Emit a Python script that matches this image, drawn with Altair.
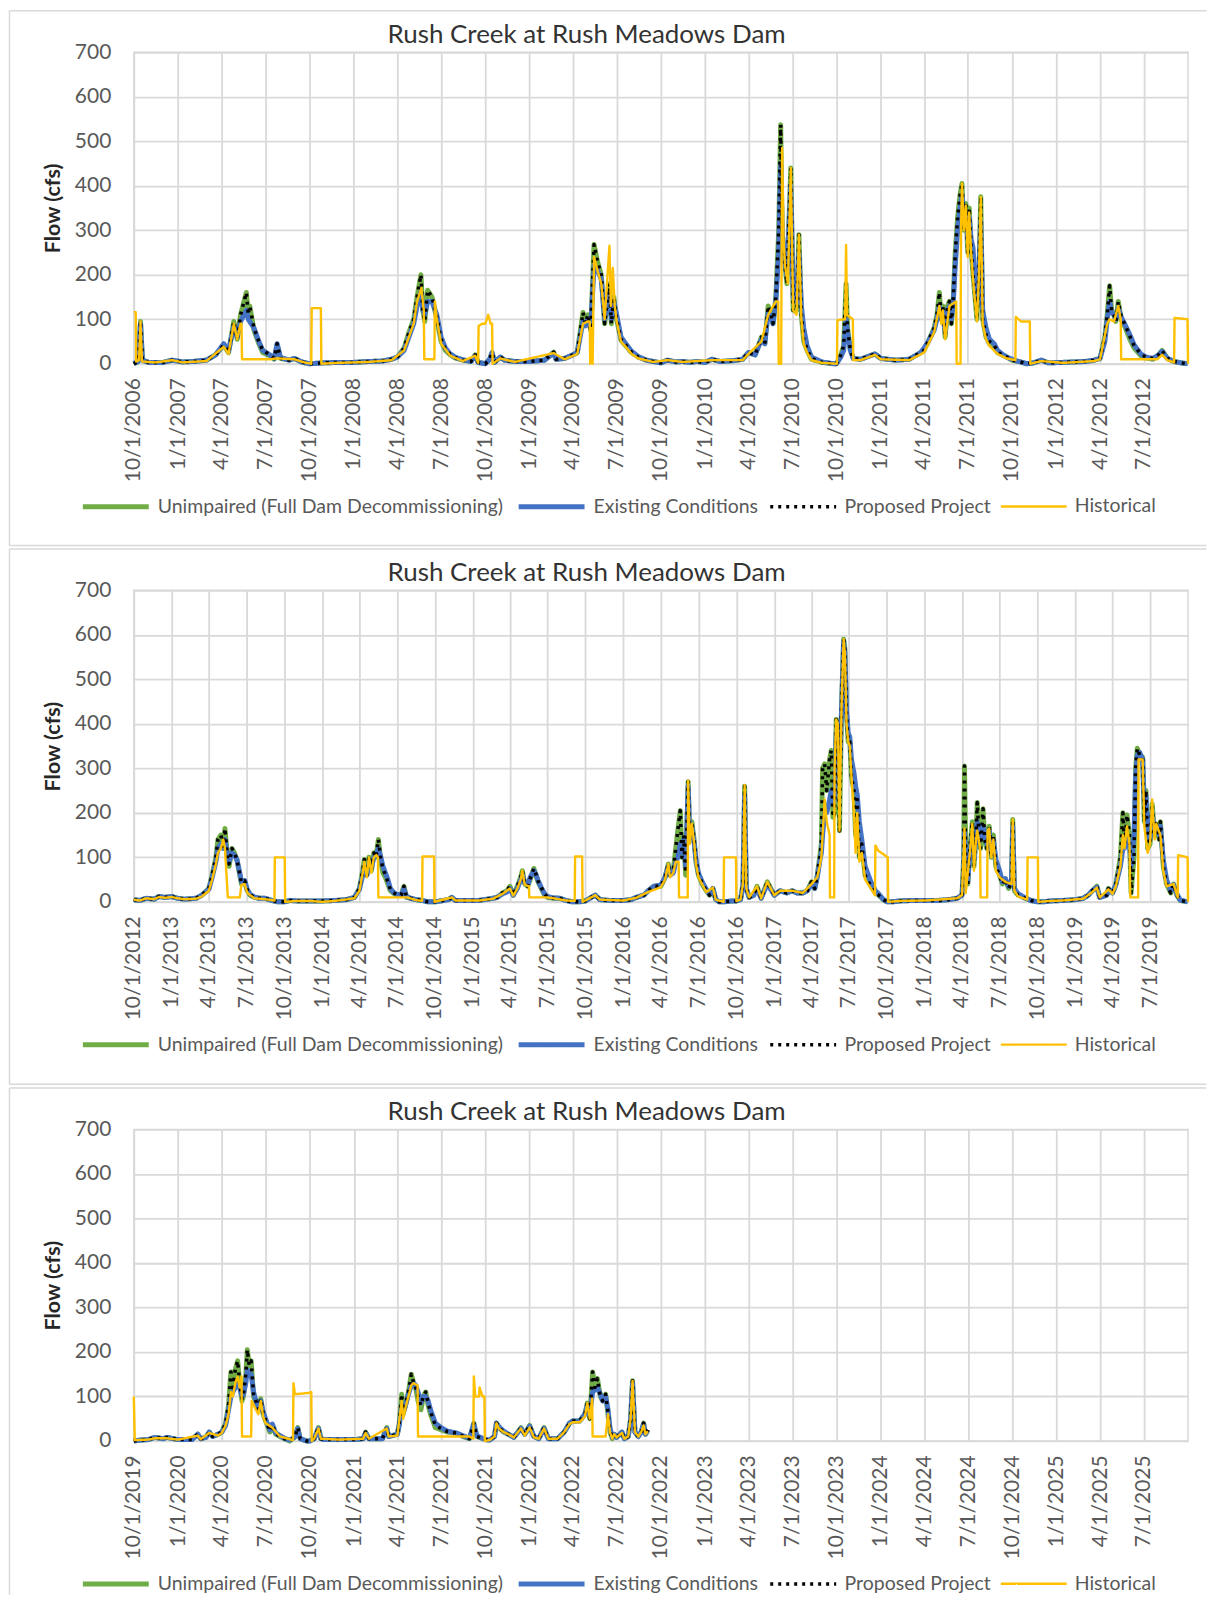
import altair as alt
import pandas as pd

TITLE = "Rush Creek at Rush Meadows Dam"
SERIES = ["Unimpaired (Full Dam Decommissioning)", "Existing Conditions", "Proposed Project", "Historical"]
COLORS = ["#70AD47", "#4472C4", "#000000", "#FFC000"]
DASHES = [[1, 0], [1, 0], [3, 5], [1, 0]]
WIDTHS = [5, 5, 3.5, 2.4]
Y_TICKS = [0, 100, 200, 300, 400, 500, 600, 700]

# ---------------- Panel 1 : WY2007 - WY2012 ----------------
P1_DATES = [
    "2006-10-01", "2006-10-10", "2006-10-15", "2006-10-19", "2006-11-01", "2006-12-01", "2006-12-20", "2007-01-10", "2007-02-01", "2007-03-01", "2007-03-20", "2007-04-06", "2007-04-16", "2007-04-27", "2007-05-04", "2007-05-11", "2007-05-23", "2007-05-27", "2007-05-30", "2007-06-08", "2007-06-18", "2007-06-26", "2007-07-11", "2007-07-20", "2007-07-26", "2007-08-02", "2007-08-20", "2007-08-31", "2007-09-15",
    "2007-10-01", "2007-11-01", "2007-12-01", "2008-01-01", "2008-02-01", "2008-03-01", "2008-03-20", "2008-04-01", "2008-04-15", "2008-04-25", "2008-05-05", "2008-05-12", "2008-05-20", "2008-05-24", "2008-05-28", "2008-06-03", "2008-06-12", "2008-06-22", "2008-07-01", "2008-07-10", "2008-07-20", "2008-08-01", "2008-08-15", "2008-09-01", "2008-09-10", "2008-09-16",
    "2008-10-01", "2008-10-10", "2008-10-15", "2008-10-20", "2008-11-01", "2008-11-10", "2008-12-01", "2009-01-01", "2009-02-01", "2009-02-20", "2009-02-25", "2009-03-15", "2009-04-01", "2009-04-10", "2009-04-22", "2009-04-27", "2009-05-02", "2009-05-08", "2009-05-15", "2009-05-22", "2009-05-30", "2009-06-06", "2009-06-16", "2009-06-20", "2009-06-25", "2009-07-01", "2009-07-10", "2009-07-20", "2009-08-01", "2009-08-15", "2009-09-01", "2009-09-15",
    "2009-10-01", "2009-10-15", "2009-11-01", "2009-11-15", "2009-12-01", "2009-12-15", "2010-01-01", "2010-01-15", "2010-02-01", "2010-03-01", "2010-03-20", "2010-04-01", "2010-04-15", "2010-04-28", "2010-05-05", "2010-05-12", "2010-05-18", "2010-05-22", "2010-05-28", "2010-06-03", "2010-06-07", "2010-06-10", "2010-06-14", "2010-06-20", "2010-06-28", "2010-07-03", "2010-07-10", "2010-07-15", "2010-07-20", "2010-07-25", "2010-08-01", "2010-08-10", "2010-09-01", "2010-09-25",
    "2010-10-01", "2010-10-10", "2010-10-16", "2010-10-21", "2010-10-24", "2010-10-30", "2010-11-05", "2010-11-20", "2010-12-20", "2011-01-01", "2011-02-01", "2011-03-01", "2011-03-25", "2011-04-01", "2011-04-10", "2011-04-22", "2011-04-28", "2011-05-03", "2011-05-07", "2011-05-10", "2011-05-15", "2011-05-20", "2011-05-24", "2011-05-28", "2011-06-01", "2011-06-05", "2011-06-10", "2011-06-15", "2011-06-19", "2011-06-23", "2011-06-27", "2011-07-01", "2011-07-04", "2011-07-08", "2011-07-12", "2011-07-16", "2011-07-20", "2011-07-24", "2011-07-28", "2011-08-01", "2011-08-08", "2011-08-15", "2011-08-25", "2011-09-01", "2011-09-10", "2011-09-20",
    "2011-10-01", "2011-10-15", "2011-11-01", "2011-11-15", "2011-12-01", "2011-12-15", "2012-01-15", "2012-03-01", "2012-03-20", "2012-04-01", "2012-04-11", "2012-04-16", "2012-04-21", "2012-04-25", "2012-04-30", "2012-05-04", "2012-05-09", "2012-05-15", "2012-05-22", "2012-06-02", "2012-06-11", "2012-06-25", "2012-07-05", "2012-07-20", "2012-08-01", "2012-08-08", "2012-08-19", "2012-09-02", "2012-09-16", "2012-09-30",
]
P1_UNIMPAIRED = [
    0, 5, 95, 8, 3, 3, 8, 4, 5, 8, 20, 42, 25, 95, 55, 110, 160, 110, 130, 75, 45, 25, 18, 10, 42, 12, 8, 12, 4,
    0, 2, 3, 3, 5, 6, 10, 15, 35, 70, 100, 150, 200, 120, 95, 165, 150, 100, 50, 30, 20, 12, 8, 5, 20, 3,
    0, 10, 25, 3, 15, 8, 5, 5, 8, 26, 10, 12, 20, 25, 115, 90, 110, 75, 268, 230, 200, 90, 180, 90, 150, 100, 53, 40, 25, 15, 8, 5,
    2, 8, 4, 5, 3, 5, 3, 10, 5, 7, 10, 25, 20, 60, 45, 130, 110, 90, 150, 300, 537, 300, 240, 180, 440, 120, 120, 290, 110, 50, 30, 10, 3, 0,
    0, 20, 40, 180, 80, 30, 12, 10, 22, 12, 8, 10, 25, 30, 50, 80, 110, 160, 100, 130, 60, 130, 140, 90, 150, 250, 330, 380, 405, 300, 360, 250, 350, 260, 200, 150, 100, 200, 375, 100, 60, 45, 40, 25, 20, 15,
    8, 5, 0, 2, 8, 2, 3, 5, 8, 12, 60, 110, 175, 120, 110, 95, 140, 100, 85, 55, 35, 18, 13, 10, 20, 30, 12, 5, 2, 0,
]
P1_EXISTING = [
    0, 5, 90, 8, 3, 3, 8, 4, 5, 8, 20, 45, 28, 85, 60, 95, 120, 100, 95, 80, 50, 30, 20, 12, 45, 14, 8, 12, 4,
    0, 2, 3, 3, 5, 6, 10, 15, 30, 60, 90, 130, 160, 120, 110, 140, 140, 110, 60, 35, 22, 14, 9, 5, 18, 3,
    0, 10, 25, 3, 15, 8, 5, 5, 8, 24, 10, 12, 20, 25, 95, 85, 100, 80, 220, 210, 190, 100, 160, 100, 140, 110, 60, 45, 28, 16, 8, 5,
    2, 8, 4, 5, 3, 5, 3, 10, 5, 7, 10, 25, 20, 55, 45, 115, 105, 90, 140, 250, 450, 300, 240, 200, 400, 150, 140, 250, 130, 80, 40, 15, 4, 0,
    0, 15, 30, 100, 70, 30, 12, 10, 22, 12, 8, 10, 25, 35, 50, 75, 100, 130, 100, 120, 70, 120, 130, 100, 140, 220, 300, 350, 380, 320, 340, 280, 330, 280, 260, 180, 130, 200, 320, 120, 80, 55, 45, 30, 22, 15,
    10, 5, 0, 2, 8, 2, 3, 5, 8, 12, 50, 100, 140, 115, 110, 100, 125, 105, 90, 65, 42, 22, 15, 12, 20, 28, 12, 5, 2, 0,
]
P1_PROPOSED = [
    0, 5, 95, 8, 3, 3, 8, 4, 5, 8, 20, 42, 25, 95, 55, 110, 160, 110, 130, 80, 50, 30, 20, 12, 45, 12, 8, 12, 4,
    0, 2, 3, 3, 5, 6, 10, 15, 35, 70, 100, 150, 200, 120, 95, 165, 150, 105, 55, 32, 21, 13, 8, 5, 20, 3,
    0, 10, 25, 3, 15, 8, 5, 5, 8, 26, 10, 12, 20, 25, 115, 90, 110, 75, 268, 230, 200, 90, 180, 90, 150, 100, 55, 42, 26, 15, 8, 5,
    2, 8, 4, 5, 3, 5, 3, 10, 5, 7, 10, 25, 20, 60, 45, 130, 110, 90, 150, 300, 537, 300, 240, 180, 440, 120, 120, 290, 110, 55, 32, 12, 3, 0,
    0, 20, 40, 180, 80, 30, 12, 10, 22, 12, 8, 10, 25, 30, 50, 80, 110, 160, 100, 130, 60, 130, 140, 90, 150, 250, 330, 380, 405, 300, 360, 250, 350, 260, 200, 150, 100, 200, 375, 100, 65, 50, 42, 27, 20, 15,
    8, 5, 0, 2, 8, 2, 3, 5, 8, 12, 60, 110, 175, 120, 110, 95, 140, 105, 90, 62, 40, 22, 15, 12, 20, 30, 12, 5, 2, 0,
]
P1_HISTORICAL = [
    ("2006-10-01", 116), ("2006-10-05", 116), ("2006-10-06", 5), ("2006-10-12", 8), ("2006-10-15", 95), ("2006-10-18", 5),
    ("2006-11-15", 3), ("2006-12-20", 8), ("2007-01-10", 3), ("2007-03-01", 6), ("2007-04-06", 38), ("2007-04-16", 22),
    ("2007-04-27", 90), ("2007-05-04", 55), ("2007-05-11", 90), ("2007-05-13", 90), ("2007-05-14", 10), ("2007-07-11", 10),
    ("2007-07-26", 12), ("2007-08-31", 10), ("2007-09-20", 3), ("2007-10-05", 0), ("2007-10-06", 125), ("2007-10-25", 125),
    ("2007-10-26", 0), ("2007-12-01", 2), ("2008-02-01", 4), ("2008-03-20", 8), ("2008-04-15", 30), ("2008-05-05", 90),
    ("2008-05-12", 140), ("2008-05-21", 170), ("2008-05-26", 120), ("2008-05-27", 10), ("2008-06-17", 10), ("2008-06-18", 140),
    ("2008-06-22", 100), ("2008-07-01", 45), ("2008-07-20", 18), ("2008-08-15", 6), ("2008-09-10", 18), ("2008-09-16", 2),
    ("2008-09-17", 85), ("2008-09-25", 90), ("2008-10-01", 90), ("2008-10-07", 110), ("2008-10-12", 90), ("2008-10-15", 90),
    ("2008-10-16", 0), ("2008-11-01", 12), ("2008-12-01", 4), ("2009-02-20", 24), ("2009-03-15", 10), ("2009-04-10", 22),
    ("2009-04-22", 90), ("2009-05-02", 95), ("2009-05-06", 95), ("2009-05-07", 0), ("2009-05-09", 80), ("2009-05-11", 80),
    ("2009-05-12", 0), ("2009-05-15", 240), ("2009-05-22", 210), ("2009-05-30", 180), ("2009-06-06", 100), ("2009-06-16", 265),
    ("2009-06-19", 130), ("2009-06-23", 215), ("2009-06-27", 130), ("2009-07-01", 95), ("2009-07-10", 50), ("2009-07-20", 38),
    ("2009-08-01", 22), ("2009-08-15", 12), ("2009-09-15", 4), ("2009-10-15", 8), ("2009-11-15", 4), ("2010-01-15", 8),
    ("2010-03-20", 8), ("2010-04-01", 22), ("2010-04-28", 50), ("2010-05-12", 110), ("2010-05-28", 140), ("2010-06-02", 140),
    ("2010-06-03", 0), ("2010-06-08", 0), ("2010-06-10", 485), ("2010-06-13", 280), ("2010-06-16", 220), ("2010-06-22", 180),
    ("2010-06-28", 440), ("2010-07-03", 120), ("2010-07-10", 110), ("2010-07-15", 290), ("2010-07-20", 100), ("2010-07-25", 45),
    ("2010-08-01", 25), ("2010-08-10", 8), ("2010-09-01", 2), ("2010-10-02", 0), ("2010-10-03", 98), ("2010-10-19", 100),
    ("2010-10-21", 267), ("2010-10-23", 110), ("2010-11-04", 100), ("2010-11-05", 8), ("2010-11-20", 8), ("2010-12-20", 20),
    ("2011-01-01", 10), ("2011-03-01", 8), ("2011-04-01", 25), ("2011-04-22", 70), ("2011-05-03", 130), ("2011-05-07", 90),
    ("2011-05-10", 120), ("2011-05-15", 55), ("2011-05-24", 130), ("2011-06-07", 140), ("2011-06-08", 0), ("2011-06-16", 0),
    ("2011-06-17", 300), ("2011-06-19", 405), ("2011-06-23", 300), ("2011-06-27", 355), ("2011-07-01", 240), ("2011-07-04", 340),
    ("2011-07-08", 250), ("2011-07-12", 190), ("2011-07-16", 140), ("2011-07-20", 95), ("2011-07-24", 190), ("2011-07-28", 375),
    ("2011-08-01", 90), ("2011-08-08", 55), ("2011-08-15", 40), ("2011-09-01", 22), ("2011-09-20", 12), ("2011-10-08", 8),
    ("2011-10-09", 105), ("2011-10-20", 95), ("2011-11-07", 95), ("2011-11-08", 0), ("2011-12-01", 6), ("2012-01-15", 2),
    ("2012-03-20", 6), ("2012-04-01", 10), ("2012-04-16", 90), ("2012-04-21", 100), ("2012-04-30", 95), ("2012-05-09", 130),
    ("2012-05-14", 100), ("2012-05-15", 10), ("2012-07-29", 10), ("2012-08-08", 20), ("2012-08-19", 8), ("2012-09-02", 3),
    ("2012-09-03", 103), ("2012-09-30", 100), ("2012-10-01", 0),
]

# ---------------- Panel 2 : WY2013 - WY2019 ----------------
P2_DATES = [
    "2012-10-01", "2012-10-15", "2012-11-01", "2012-11-20", "2012-12-01", "2012-12-15", "2013-01-01", "2013-01-15", "2013-02-01", "2013-03-01", "2013-03-15", "2013-04-01", "2013-04-09", "2013-04-18", "2013-04-23", "2013-04-30", "2013-05-06", "2013-05-10", "2013-05-16", "2013-05-20", "2013-05-27", "2013-06-02", "2013-06-08", "2013-06-15", "2013-06-19", "2013-06-27", "2013-07-03", "2013-07-10", "2013-07-20", "2013-08-01", "2013-08-15", "2013-09-01", "2013-09-15",
    "2013-10-01", "2013-10-15", "2013-11-01", "2013-12-01", "2014-01-01", "2014-02-01", "2014-03-01", "2014-03-20", "2014-04-01", "2014-04-09", "2014-04-13", "2014-04-19", "2014-04-24", "2014-04-30", "2014-05-06", "2014-05-11", "2014-05-17", "2014-05-23", "2014-05-28", "2014-06-03", "2014-06-09", "2014-06-15", "2014-06-22", "2014-06-30", "2014-07-11", "2014-07-18", "2014-07-24", "2014-08-03", "2014-08-16", "2014-09-01", "2014-09-14",
    "2014-10-01", "2014-10-15", "2014-11-03", "2014-11-11", "2014-11-20", "2014-12-15", "2015-01-15", "2015-02-19", "2015-03-01", "2015-03-14", "2015-03-25", "2015-04-01", "2015-04-09", "2015-04-19", "2015-04-27", "2015-05-01", "2015-05-07", "2015-05-14", "2015-05-20", "2015-05-29", "2015-06-03", "2015-06-08", "2015-06-16", "2015-06-24", "2015-07-01", "2015-07-15", "2015-07-31", "2015-08-15", "2015-08-30", "2015-09-16",
    "2015-10-01", "2015-10-15", "2015-10-25", "2015-11-05", "2015-12-01", "2016-01-01", "2016-01-20", "2016-02-01", "2016-02-20", "2016-03-01", "2016-03-15", "2016-04-01", "2016-04-11", "2016-04-19", "2016-04-23", "2016-05-01", "2016-05-07", "2016-05-12", "2016-05-18", "2016-05-22", "2016-05-26", "2016-05-31", "2016-06-06", "2016-06-10", "2016-06-15", "2016-06-21", "2016-06-25", "2016-07-01", "2016-07-10", "2016-07-20", "2016-07-28", "2016-08-05", "2016-08-12", "2016-08-20", "2016-09-01", "2016-09-20",
    "2016-10-01", "2016-10-11", "2016-10-17", "2016-10-21", "2016-10-25", "2016-11-01", "2016-11-12", "2016-11-20", "2016-11-30", "2016-12-15", "2017-01-01", "2017-01-15", "2017-01-31", "2017-02-13", "2017-02-25", "2017-03-11", "2017-03-22", "2017-04-01", "2017-04-09", "2017-04-15", "2017-04-21", "2017-04-25", "2017-04-28", "2017-05-03", "2017-05-08", "2017-05-15", "2017-05-19", "2017-05-23", "2017-05-27", "2017-05-31", "2017-06-04", "2017-06-08", "2017-06-13", "2017-06-18", "2017-06-21", "2017-06-25", "2017-06-29", "2017-07-03", "2017-07-07", "2017-07-13", "2017-07-17", "2017-07-21", "2017-07-26", "2017-08-01", "2017-08-09", "2017-08-23", "2017-09-03", "2017-09-11", "2017-09-22",
    "2017-10-01", "2017-10-15", "2017-11-01", "2017-12-01", "2018-01-01", "2018-02-01", "2018-03-01", "2018-03-20", "2018-04-01", "2018-04-05", "2018-04-07", "2018-04-11", "2018-04-15", "2018-04-20", "2018-04-26", "2018-04-30", "2018-05-05", "2018-05-08", "2018-05-12", "2018-05-16", "2018-05-22", "2018-05-26", "2018-05-31", "2018-06-06", "2018-06-11", "2018-06-16", "2018-06-22", "2018-07-01", "2018-07-08", "2018-07-15", "2018-07-23", "2018-07-30", "2018-08-02", "2018-08-06", "2018-08-15", "2018-09-01", "2018-09-15",
    "2018-10-01", "2018-10-16", "2018-11-01", "2018-12-01", "2019-01-01", "2019-01-20", "2019-02-01", "2019-02-11", "2019-02-22", "2019-03-01", "2019-03-18", "2019-03-22", "2019-04-01", "2019-04-09", "2019-04-20", "2019-04-26", "2019-04-30", "2019-05-06", "2019-05-12", "2019-05-16", "2019-05-23", "2019-05-27", "2019-05-31", "2019-06-06", "2019-06-13", "2019-06-17", "2019-06-21", "2019-06-25", "2019-07-01", "2019-07-06", "2019-07-12", "2019-07-16", "2019-07-23", "2019-07-26", "2019-08-02", "2019-08-10", "2019-08-20", "2019-08-27", "2019-09-04", "2019-09-12", "2019-09-30",
]
P2_UNIMPAIRED = [
    5, 3, 8, 6, 12, 10, 12, 8, 6, 8, 15, 30, 60, 100, 140, 150, 125, 165, 100, 80, 120, 110, 95, 60, 40, 45, 25, 15, 10, 8, 8, 3, 0,
    0, 3, 2, 2, 2, 3, 5, 10, 30, 70, 95, 60, 100, 70, 110, 100, 140, 90, 65, 55, 40, 25, 20, 15, 15, 35, 10, 8, 5, 3, 0,
    0, 2, 5, 10, 3, 3, 3, 8, 10, 20, 25, 35, 15, 35, 55, 70, 40, 35, 50, 75, 60, 45, 30, 15, 10, 8, 8, 3, 0, 0,
    2, 10, 15, 5, 3, 3, 5, 10, 15, 25, 35, 35, 55, 85, 60, 70, 120, 160, 205, 100, 150, 60, 270, 140, 180, 135, 90, 60, 40, 25, 15, 30, 5, 0, 0, 2,
    2, 5, 40, 260, 30, 10, 15, 35, 8, 45, 15, 25, 20, 25, 20, 20, 25, 45, 30, 60, 100, 130, 300, 310, 250, 320, 340, 190, 200, 410, 400, 160, 440, 590, 570, 420, 360, 360, 280, 250, 150, 230, 100, 130, 60, 35, 20, 15, 5,
    0, 0, 2, 3, 3, 3, 5, 8, 15, 100, 305, 50, 40, 120, 180, 80, 150, 223, 150, 120, 209, 140, 120, 170, 100, 150, 80, 60, 40, 52, 30, 45, 185, 25, 15, 8, 3,
    0, 0, 2, 3, 5, 8, 15, 25, 35, 10, 15, 30, 20, 40, 100, 200, 130, 195, 150, 20, 100, 300, 345, 330, 325, 180, 250, 120, 130, 220, 150, 175, 140, 180, 80, 40, 20, 40, 15, 3, 0,
]
P2_EXISTING = [
    5, 3, 8, 6, 12, 10, 12, 8, 6, 8, 15, 28, 55, 90, 120, 130, 120, 140, 105, 90, 110, 105, 95, 65, 45, 48, 28, 17, 11, 8, 8, 3, 0,
    0, 3, 2, 2, 2, 3, 5, 10, 28, 60, 80, 60, 85, 75, 100, 105, 120, 100, 80, 65, 50, 30, 22, 17, 15, 30, 12, 8, 5, 3, 0,
    0, 2, 5, 10, 3, 3, 3, 8, 10, 18, 22, 30, 15, 30, 50, 60, 42, 38, 55, 70, 62, 48, 32, 18, 12, 9, 8, 3, 0, 0,
    2, 10, 15, 5, 3, 3, 5, 10, 15, 25, 35, 38, 55, 80, 60, 65, 90, 100, 130, 110, 140, 80, 260, 150, 170, 130, 95, 65, 45, 28, 17, 30, 6, 0, 0, 2,
    2, 5, 35, 240, 30, 10, 15, 30, 8, 40, 15, 25, 20, 25, 20, 20, 25, 40, 30, 55, 90, 110, 150, 200, 200, 230, 250, 220, 230, 380, 390, 300, 430, 585, 560, 430, 380, 370, 320, 290, 260, 240, 180, 140, 80, 45, 25, 18, 6,
    0, 0, 2, 3, 3, 3, 5, 8, 15, 70, 160, 60, 45, 110, 150, 95, 140, 180, 160, 140, 170, 150, 130, 160, 110, 140, 95, 70, 45, 52, 35, 45, 170, 30, 18, 9, 3,
    0, 0, 2, 3, 5, 8, 15, 25, 33, 10, 15, 28, 20, 38, 80, 120, 120, 140, 130, 80, 150, 280, 330, 335, 320, 220, 240, 150, 140, 200, 160, 170, 150, 170, 95, 50, 25, 38, 18, 4, 0,
]
P2_PROPOSED = [
    5, 3, 8, 6, 12, 10, 12, 8, 6, 8, 15, 30, 60, 100, 140, 150, 125, 165, 100, 85, 120, 110, 95, 62, 43, 47, 27, 16, 10, 8, 8, 3, 0,
    0, 3, 2, 2, 2, 3, 5, 10, 30, 70, 95, 60, 100, 72, 110, 100, 140, 95, 75, 60, 45, 28, 21, 16, 15, 35, 11, 8, 5, 3, 0,
    0, 2, 5, 10, 3, 3, 3, 8, 10, 20, 25, 35, 15, 35, 55, 70, 40, 35, 52, 75, 62, 47, 32, 17, 11, 8, 8, 3, 0, 0,
    2, 10, 15, 5, 3, 3, 5, 10, 15, 25, 35, 35, 55, 85, 60, 70, 120, 160, 205, 100, 150, 65, 270, 140, 180, 135, 92, 62, 42, 26, 15, 30, 5, 0, 0, 2,
    2, 5, 40, 260, 30, 10, 15, 35, 8, 45, 15, 25, 20, 25, 20, 20, 25, 45, 30, 60, 100, 130, 300, 310, 250, 320, 340, 190, 200, 410, 400, 160, 440, 590, 570, 420, 360, 360, 280, 250, 150, 230, 100, 130, 60, 35, 20, 15, 5,
    0, 0, 2, 3, 3, 3, 5, 8, 15, 100, 305, 50, 40, 120, 180, 80, 150, 223, 150, 120, 209, 140, 120, 170, 100, 150, 80, 60, 40, 52, 30, 45, 185, 25, 15, 8, 3,
    0, 0, 2, 3, 5, 8, 15, 25, 35, 10, 15, 30, 20, 40, 100, 200, 130, 195, 150, 20, 100, 300, 345, 330, 325, 180, 250, 120, 130, 220, 150, 175, 140, 180, 80, 40, 20, 40, 15, 3, 0,
]
P2_HISTORICAL = [
    ("2012-10-01", 5), ("2012-10-15", 3), ("2012-11-01", 8), ("2012-11-20", 6), ("2012-12-01", 11), ("2012-12-15", 9),
    ("2013-01-01", 11), ("2013-01-15", 8), ("2013-02-01", 6), ("2013-03-01", 7), ("2013-03-15", 12), ("2013-04-01", 25),
    ("2013-04-09", 50), ("2013-04-18", 85), ("2013-04-23", 110), ("2013-04-30", 120), ("2013-05-06", 140), ("2013-05-10", 120),
    ("2013-05-17", 10), ("2013-06-15", 10), ("2013-06-19", 38), ("2013-06-27", 40), ("2013-07-03", 20), ("2013-07-20", 8),
    ("2013-08-15", 6), ("2013-09-07", 3), ("2013-09-08", 100), ("2013-10-02", 100), ("2013-10-03", 0), ("2013-11-01", 2),
    ("2013-12-01", 2), ("2014-01-01", 0), ("2014-02-01", 2), ("2014-03-20", 8), ("2014-04-01", 25), ("2014-04-09", 65),
    ("2014-04-13", 90), ("2014-04-19", 55), ("2014-04-24", 100), ("2014-04-30", 65), ("2014-05-06", 100), ("2014-05-12", 105),
    ("2014-05-16", 100), ("2014-05-17", 10), ("2014-07-26", 10), ("2014-08-16", 4), ("2014-08-31", 2), ("2014-09-01", 102),
    ("2014-09-29", 102), ("2014-09-30", 0), ("2014-11-11", 10), ("2014-11-20", 3), ("2015-01-15", 3), ("2015-02-19", 7),
    ("2015-03-14", 18), ("2015-04-01", 30), ("2015-04-09", 14), ("2015-04-19", 30), ("2015-04-27", 50), ("2015-05-01", 70),
    ("2015-05-07", 38), ("2015-05-17", 35), ("2015-05-18", 10), ("2015-06-29", 10), ("2015-07-15", 8), ("2015-08-15", 3),
    ("2015-09-05", 2), ("2015-09-06", 102), ("2015-09-23", 102), ("2015-09-24", 0), ("2015-10-15", 10), ("2015-10-25", 15),
    ("2015-11-05", 5), ("2016-01-01", 3), ("2016-02-01", 9), ("2016-03-01", 22), ("2016-04-01", 33), ("2016-04-11", 50),
    ("2016-04-19", 85), ("2016-04-23", 55), ("2016-05-01", 65), ("2016-05-07", 90), ("2016-05-14", 90), ("2016-05-15", 10),
    ("2016-06-05", 10), ("2016-06-06", 272), ("2016-06-10", 130), ("2016-06-15", 175), ("2016-06-21", 130), ("2016-06-25", 85),
    ("2016-07-01", 55), ("2016-07-20", 22), ("2016-08-05", 32), ("2016-08-12", 5), ("2016-08-31", 0), ("2016-09-01", 100),
    ("2016-09-30", 100), ("2016-10-01", 2), ("2016-10-11", 5), ("2016-10-17", 40), ("2016-10-21", 262), ("2016-10-25", 30),
    ("2016-11-01", 10), ("2016-11-20", 35), ("2016-11-30", 8), ("2016-12-15", 45), ("2017-01-01", 15), ("2017-01-15", 25),
    ("2017-02-13", 25), ("2017-03-11", 20), ("2017-04-01", 40), ("2017-04-15", 55), ("2017-04-21", 80), ("2017-04-25", 100),
    ("2017-04-28", 150), ("2017-05-03", 230), ("2017-05-08", 180), ("2017-05-15", 150), ("2017-05-16", 10), ("2017-05-26", 10),
    ("2017-05-27", 300), ("2017-05-31", 410), ("2017-06-04", 400), ("2017-06-08", 160), ("2017-06-13", 440), ("2017-06-18", 590),
    ("2017-06-21", 560), ("2017-06-25", 400), ("2017-06-29", 360), ("2017-07-03", 350), ("2017-07-07", 280), ("2017-07-13", 200),
    ("2017-07-17", 110), ("2017-07-21", 200), ("2017-07-26", 90), ("2017-08-01", 110), ("2017-08-09", 50), ("2017-08-23", 30),
    ("2017-09-02", 15), ("2017-09-03", 127), ("2017-09-10", 115), ("2017-10-03", 100), ("2017-10-04", 0), ("2017-11-01", 2),
    ("2018-01-01", 3), ("2018-03-20", 8), ("2018-04-01", 15), ("2018-04-07", 165), ("2018-04-10", 20), ("2018-04-20", 110),
    ("2018-04-26", 175), ("2018-04-30", 70), ("2018-05-05", 140), ("2018-05-08", 160), ("2018-05-15", 120), ("2018-05-16", 10),
    ("2018-06-01", 10), ("2018-06-02", 160), ("2018-06-06", 165), ("2018-06-11", 100), ("2018-06-16", 140), ("2018-06-22", 70),
    ("2018-07-01", 55), ("2018-07-15", 45), ("2018-07-30", 40), ("2018-08-02", 185), ("2018-08-06", 25), ("2018-08-15", 12),
    ("2018-09-06", 5), ("2018-09-07", 100), ("2018-10-02", 100), ("2018-10-03", 0), ("2018-11-01", 2), ("2018-12-01", 3),
    ("2019-01-20", 7), ("2019-02-11", 22), ("2019-02-22", 32), ("2019-03-01", 10), ("2019-03-22", 28), ("2019-04-01", 18),
    ("2019-04-09", 35), ("2019-04-20", 80), ("2019-04-26", 150), ("2019-04-30", 120), ("2019-05-06", 170), ("2019-05-12", 130),
    ("2019-05-14", 10), ("2019-06-02", 10), ("2019-06-03", 320), ("2019-06-13", 320), ("2019-06-17", 170), ("2019-06-25", 110),
    ("2019-07-01", 130), ("2019-07-06", 230), ("2019-07-12", 140), ("2019-07-16", 175), ("2019-07-26", 150), ("2019-08-02", 70),
    ("2019-08-10", 35), ("2019-08-27", 40), ("2019-09-06", 10), ("2019-09-07", 105), ("2019-09-30", 100), ("2019-10-01", 0),
]

# ---------------- Panel 3 : WY2020 - WY2022 ----------------
P3_DATES = [
    "2019-10-01", "2019-10-15", "2019-10-31", "2019-11-14", "2019-12-01", "2019-12-09", "2020-01-01", "2020-01-30", "2020-02-11", "2020-02-17", "2020-02-28", "2020-03-06", "2020-03-13", "2020-03-24", "2020-04-01", "2020-04-09", "2020-04-15", "2020-04-20", "2020-04-24", "2020-04-29", "2020-05-04", "2020-05-08", "2020-05-13", "2020-05-16", "2020-05-21", "2020-05-24", "2020-05-28", "2020-06-01", "2020-06-06", "2020-06-11", "2020-06-16", "2020-06-21", "2020-06-26", "2020-07-01", "2020-07-10", "2020-07-15", "2020-07-22", "2020-07-31", "2020-08-09", "2020-08-20", "2020-08-30", "2020-09-06", "2020-09-11", "2020-09-24",
    "2020-10-01", "2020-10-10", "2020-10-19", "2020-10-24", "2020-10-31", "2020-12-01", "2021-01-01", "2021-01-20", "2021-01-25", "2021-02-01", "2021-03-01", "2021-03-10", "2021-03-14", "2021-04-01", "2021-04-05", "2021-04-10", "2021-04-13", "2021-04-18", "2021-04-24", "2021-04-30", "2021-05-05", "2021-05-09", "2021-05-14", "2021-05-20", "2021-05-25", "2021-05-30", "2021-06-04", "2021-06-09", "2021-06-19", "2021-07-01", "2021-07-14", "2021-08-01", "2021-08-15", "2021-08-29", "2021-09-07", "2021-09-13",
    "2021-10-01", "2021-10-10", "2021-10-20", "2021-10-24", "2021-10-29", "2021-11-08", "2021-11-18", "2021-11-29", "2021-12-08", "2021-12-14", "2021-12-22", "2022-01-01", "2022-01-10", "2022-01-20", "2022-01-31", "2022-02-09", "2022-02-28", "2022-03-14", "2022-03-25", "2022-04-01", "2022-04-15", "2022-04-26", "2022-05-01", "2022-05-06", "2022-05-12", "2022-05-17", "2022-05-22", "2022-05-28", "2022-06-02", "2022-06-08", "2022-06-13", "2022-06-17", "2022-06-22", "2022-06-26", "2022-07-01", "2022-07-12", "2022-07-17", "2022-07-25", "2022-07-30", "2022-08-03", "2022-08-08", "2022-08-15", "2022-08-21", "2022-08-26", "2022-08-30", "2022-09-04",
]
P3_UNIMPAIRED = [
    0, 2, 3, 8, 5, 8, 3, 3, 15, 5, 8, 20, 10, 15, 20, 40, 80, 155, 120, 160, 180, 130, 90, 100, 150, 205, 170, 180, 100, 85, 70, 95, 60, 45, 20, 35, 15, 10, 5, 0, 8, 30, 5, 0,
    0, 5, 30, 5, 3, 3, 3, 5, 20, 5, 5, 30, 10, 15, 40, 105, 60, 80, 110, 150, 130, 120, 90, 70, 100, 110, 80, 60, 30, 25, 20, 18, 10, 5, 40, 10,
    3, 2, 10, 40, 30, 20, 15, 8, 20, 30, 15, 35, 10, 5, 30, 5, 5, 20, 40, 45, 45, 60, 85, 50, 155, 120, 140, 100, 90, 105, 60, 20, 5, 15, 8, 20, 5, 10, 50, 135, 20, 10, 20, 40, 15, 25,
]
P3_EXISTING = [
    0, 2, 3, 8, 5, 8, 3, 3, 15, 5, 8, 20, 10, 15, 20, 35, 70, 100, 110, 120, 130, 120, 100, 105, 130, 160, 150, 150, 110, 90, 75, 90, 65, 50, 25, 38, 18, 12, 6, 2, 8, 28, 5, 0,
    0, 5, 28, 5, 3, 3, 3, 5, 18, 5, 5, 28, 10, 15, 35, 80, 65, 80, 105, 125, 130, 125, 110, 85, 100, 100, 90, 70, 40, 30, 22, 18, 12, 6, 38, 12,
    3, 2, 10, 40, 32, 22, 15, 8, 20, 28, 15, 33, 10, 5, 28, 5, 5, 20, 40, 45, 45, 60, 80, 60, 110, 115, 120, 105, 90, 100, 70, 30, 8, 15, 8, 20, 5, 10, 45, 130, 20, 10, 20, 38, 15, 25,
]
P3_PROPOSED = [
    0, 2, 3, 8, 5, 8, 3, 3, 15, 5, 8, 20, 10, 15, 20, 40, 80, 155, 120, 160, 180, 130, 95, 105, 150, 205, 170, 180, 105, 90, 72, 95, 62, 47, 22, 37, 16, 11, 5, 0, 8, 30, 5, 0,
    0, 5, 30, 5, 3, 3, 3, 5, 20, 5, 5, 30, 10, 15, 40, 105, 60, 80, 110, 150, 130, 120, 100, 80, 100, 110, 85, 65, 35, 28, 21, 18, 11, 5, 40, 10,
    3, 2, 10, 40, 30, 20, 15, 8, 20, 30, 15, 35, 10, 5, 30, 5, 5, 20, 40, 45, 45, 60, 85, 50, 155, 120, 140, 100, 90, 105, 65, 25, 5, 15, 8, 20, 5, 10, 50, 135, 20, 10, 20, 40, 15, 25,
]
P3_HISTORICAL = [
    ("2019-10-01", 100), ("2019-10-03", 2), ("2019-10-31", 3), ("2019-11-14", 6), ("2019-12-09", 6), ("2020-01-01", 3),
    ("2020-02-11", 12), ("2020-02-17", 4), ("2020-03-06", 18), ("2020-03-24", 12), ("2020-04-01", 18), ("2020-04-09", 35),
    ("2020-04-15", 60), ("2020-04-20", 110), ("2020-04-24", 100), ("2020-04-29", 130), ("2020-05-04", 145), ("2020-05-08", 120),
    ("2020-05-12", 145), ("2020-05-13", 10), ("2020-06-01", 10), ("2020-06-02", 90), ("2020-06-11", 70), ("2020-06-16", 60),
    ("2020-06-21", 90), ("2020-06-26", 55), ("2020-07-01", 40), ("2020-07-15", 30), ("2020-07-31", 10), ("2020-08-27", 2),
    ("2020-08-28", 130), ("2020-08-31", 105), ("2020-09-30", 108), ("2020-10-04", 110), ("2020-10-05", 0), ("2020-10-10", 5),
    ("2020-10-19", 28), ("2020-10-24", 5), ("2020-12-01", 3), ("2021-01-20", 5), ("2021-01-25", 18), ("2021-02-01", 5),
    ("2021-03-10", 28), ("2021-03-14", 10), ("2021-04-01", 12), ("2021-04-10", 90), ("2021-04-13", 50), ("2021-04-18", 75),
    ("2021-04-24", 100), ("2021-04-30", 125), ("2021-05-05", 130), ("2021-05-13", 125), ("2021-05-14", 10), ("2021-08-29", 10),
    ("2021-09-06", 5), ("2021-09-07", 145), ("2021-09-10", 100), ("2021-09-18", 100), ("2021-09-19", 120), ("2021-09-25", 100),
    ("2021-09-29", 100), ("2021-09-30", 0), ("2021-10-10", 2), ("2021-10-20", 10), ("2021-10-24", 40), ("2021-10-29", 28),
    ("2021-11-08", 20), ("2021-11-18", 15), ("2021-11-29", 8), ("2021-12-08", 20), ("2021-12-14", 28), ("2021-12-22", 12),
    ("2022-01-01", 30), ("2022-01-10", 8), ("2022-01-20", 5), ("2022-01-31", 28), ("2022-02-09", 5), ("2022-02-28", 5),
    ("2022-03-14", 20), ("2022-03-25", 38), ("2022-04-01", 42), ("2022-04-15", 42), ("2022-04-26", 55), ("2022-05-01", 85),
    ("2022-05-06", 50), ("2022-05-11", 95), ("2022-05-12", 10), ("2022-06-08", 10), ("2022-06-13", 60), ("2022-06-17", 20),
    ("2022-06-22", 5), ("2022-06-26", 15), ("2022-07-01", 8), ("2022-07-12", 18), ("2022-07-17", 5), ("2022-07-25", 10),
    ("2022-07-30", 50), ("2022-08-03", 135), ("2022-08-08", 20), ("2022-08-15", 10), ("2022-08-21", 20), ("2022-08-26", 35),
    ("2022-08-30", 15), ("2022-09-04", 22),
]

FONT = "Lato"
GRID = "#D9D9D9"
TOP = -41.5


def ms(s):
    return int(pd.Timestamp(s, tz="UTC").timestamp() * 1000)


def series_frames(dates, unimp, exist, prop, hist):
    frames = []
    for name, vals in zip(SERIES[:3], [unimp, exist, prop]):
        n = min(len(dates), len(vals))
        frames.append(pd.DataFrame({"date": dates[:n], "flow": vals[:n], "series": name}))
    frames.append(pd.DataFrame({"date": [d for d, _ in hist], "flow": [v for _, v in hist], "series": SERIES[3]}))
    return frames


def panel(frames, start, end, last_tick, box_bottom, draw_bottom=True):
    ticks = [ms(t) for t in pd.date_range(start, last_tick, freq="QS")]
    legend = alt.Legend(
        orient="none", legendX=-53.5, legendY=419.5, direction="horizontal", title=None,
        symbolType="stroke", symbolSize=4356, labelFont=FONT, labelFontSize=19.5,
        labelColor="#595959", labelOffset=6.5, columnPadding=4.5, labelLimit=500, padding=0,
    )
    x = alt.X(
        "date:T",
        scale=alt.Scale(type="utc", domain=[ms(start), ms(end)], nice=False),
        axis=alt.Axis(
            values=ticks, labelExpr="utcFormat(datum.value, '%-m/%-d/%Y')", title=None,
            labelAngle=-90, labelPadding=14, labelOverlap=False, labelBound=False, labelFlush=False,
        ),
    )
    y = alt.Y(
        "flow:Q",
        scale=alt.Scale(domain=[0, 700], nice=False),
        axis=alt.Axis(values=Y_TICKS, title="Flow (cfs)", labelPadding=23, titlePadding=10),
    )
    color = alt.Color("series:N", scale=alt.Scale(domain=SERIES, range=COLORS), legend=legend)
    dash = alt.StrokeDash("series:N", scale=alt.Scale(domain=SERIES, range=DASHES), legend=legend)
    width = alt.StrokeWidth("series:N", scale=alt.Scale(type="ordinal", domain=SERIES, range=WIDTHS), legend=legend)

    one = pd.DataFrame({"t": [TITLE]})
    layers = [
        alt.Chart(one).mark_rule(color=GRID, strokeWidth=1.5).encode(
            x=alt.value(-124.5), x2=alt.value(1074.5), y=alt.value(TOP)),
        alt.Chart(one).mark_rule(color=GRID, strokeWidth=1.5).encode(
            x=alt.value(-124.5), y=alt.value(TOP), y2=alt.value(box_bottom)),
    ]
    if draw_bottom:
        layers.append(alt.Chart(one).mark_rule(color=GRID, strokeWidth=1.5).encode(
            x=alt.value(-124.5), x2=alt.value(1074.5), y=alt.value(box_bottom)))
    for f in frames:
        layers.append(
            alt.Chart(f).mark_line(interpolate="linear", strokeCap="butt", strokeJoin="round").encode(
                x=x, y=y, color=color, strokeDash=dash, strokeWidth=width)
        )
    layers.append(
        alt.Chart(one).mark_text(font=FONT, fontSize=26, color="#333333", align="center", baseline="middle").encode(
            text="t:N", x=alt.value(453.5), y=alt.value(-17))
    )
    return alt.layer(*layers).properties(width=1056, height=312)


p1 = panel(series_frames(P1_DATES, P1_UNIMPAIRED, P1_EXISTING, P1_PROPOSED, P1_HISTORICAL),
           "2006-10-01", "2012-10-01", "2012-07-01", 494)
p2 = panel(series_frames(P2_DATES, P2_UNIMPAIRED, P2_EXISTING, P2_PROPOSED, P2_HISTORICAL),
           "2012-10-01", "2019-10-01", "2019-07-01", 494.6)
p3 = panel(series_frames(P3_DATES, P3_UNIMPAIRED, P3_EXISTING, P3_PROPOSED, P3_HISTORICAL),
           "2019-10-01", "2025-10-01", "2025-07-01", 466, draw_bottom=False)

chart = (
    alt.vconcat(p1, p2, p3, spacing=0)
    .resolve_scale(x="independent", y="independent", color="independent",
                   strokeDash="independent", strokeWidth="independent")
    .properties(padding=0, background="white")
    .configure_view(stroke=GRID, strokeWidth=1.5)
    .configure_axis(
        labelFont=FONT, labelFontSize=21, labelColor="#595959",
        titleFont=FONT, titleFontSize=21.5, titleFontWeight="bold", titleColor="#262626",
        grid=True, gridColor=GRID, gridWidth=1.8, domain=False, ticks=False, tickSize=0,
    )
)

chart.save("out.html", embed_options={"renderer": "svg", "actions": False})
